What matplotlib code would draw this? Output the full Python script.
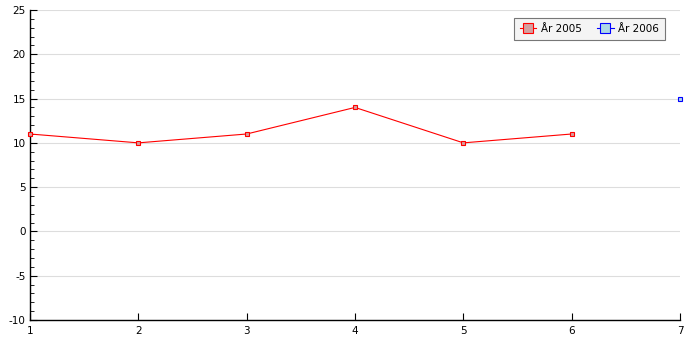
import numpy as np
import matplotlib.pyplot as plt
from matplotlib.ticker import MultipleLocator

plt.rcParams['axes.unicode_minus'] = False

x_2005 = [1, 2, 3, 4, 5, 6]
y_2005 = [11, 10, 11, 14, 10, 11]
x_2006 = [7]
y_2006 = [15]

fig = plt.figure(figsize=(7, 3.5), dpi=100)
ax = fig.add_axes([30 / 700, 30 / 350, 650 / 700, 310 / 350])

ax.plot(x_2005, y_2005, color='red', linewidth=0.8, marker='s', markersize=3.5,
        markerfacecolor='#d4a0a0', markeredgecolor='red', markeredgewidth=0.8,
        label='År 2005', clip_on=False, zorder=3)
ax.plot(x_2006, y_2006, color='blue', linewidth=0.8, marker='s', markersize=3.5,
        markerfacecolor='#add8e6', markeredgecolor='blue', markeredgewidth=0.8,
        label='År 2006', clip_on=False, zorder=3)

ax.set_xlim(1, 7)
ax.set_ylim(-10, 25)
ax.yaxis.set_major_locator(MultipleLocator(5))
ax.yaxis.set_minor_locator(MultipleLocator(1))
ax.xaxis.set_major_locator(MultipleLocator(1))
ax.grid(axis='y', color='#dddddd', linewidth=0.8)
ax.set_axisbelow(True)

for s in ['top', 'right']:
    ax.spines[s].set_visible(False)
ax.spines['left'].set_linewidth(1)
ax.spines['bottom'].set_linewidth(1)

ax.tick_params(axis='both', which='major', direction='in', length=5, labelsize=7.5, pad=3)
ax.tick_params(axis='y', which='minor', direction='in', length=3)
ax.tick_params(axis='x', which='major', pad=4)

leg = ax.legend(loc='upper right', ncol=2, fontsize=7.5, markerscale=2.2, frameon=True,
                fancybox=False, edgecolor='#777777', facecolor='#f4f4f4', framealpha=1,
                handlelength=1.6, columnspacing=1.5, handletextpad=0.4,
                bbox_to_anchor=(0.977, 0.975), borderaxespad=0, borderpad=0.6)
leg.get_frame().set_linewidth(0.8)

fig.savefig('out.png', dpi=100)
